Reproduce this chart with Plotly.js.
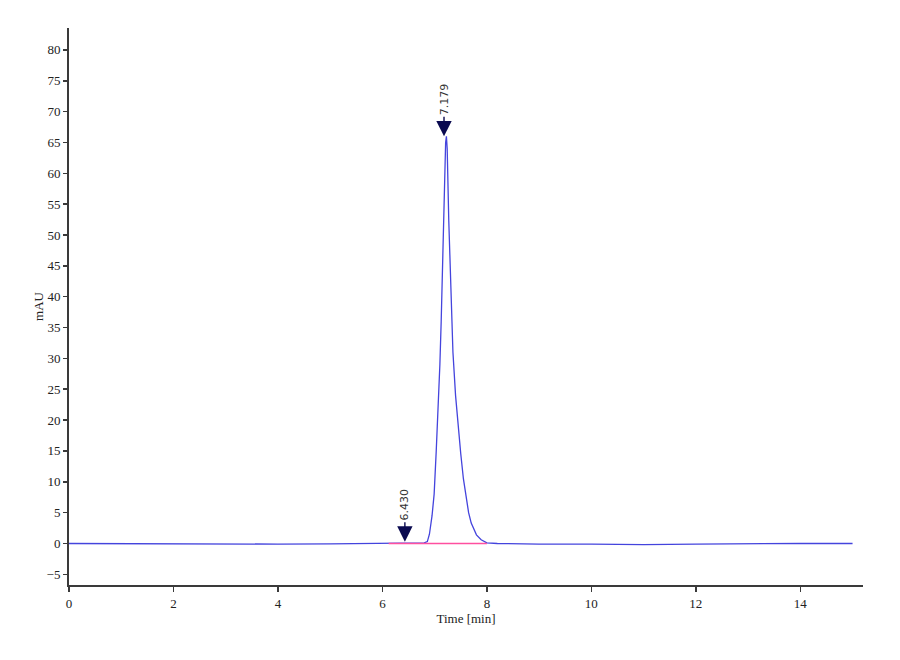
<!DOCTYPE html>
<html>
<head>
<meta charset="utf-8">
<script src="https://cdn.plot.ly/plotly-3.0.1.min.js"></script>
<style>
  body { margin: 0; background: #fff; }
  #chromGraph { width: 900px; height: 660px; }
</style>
</head>
<body>
<div id="chromGraph"></div>
<script>
// detector signal (min, mAU)
const time = [0, 1, 2, 3, 4, 5, 6, 6.4, 6.8, 6.86, 6.9, 6.95, 6.99, 7.03, 7.075, 7.1, 7.125, 7.15,
    7.17, 7.19, 7.21, 7.225, 7.24, 7.27, 7.3, 7.32, 7.35, 7.4, 7.45, 7.5, 7.55, 7.6, 7.65, 7.7,
    7.75, 7.8, 7.89, 8.0, 8.2, 9, 10, 11, 12, 13, 14, 15];
const signal = [0, -0.05, -0.05, -0.1, -0.1, -0.05, 0, 0.1, 0.1, 0.3, 1.5, 4.5, 8, 15, 23.3, 29, 36, 45,
    52.4, 60, 65, 66, 64, 52.4, 43, 37, 31, 24, 19, 14.5, 10.5, 7.3, 5, 3.3,
    2.2, 1.4, 0.6, 0.1, 0, -0.1, -0.1, -0.2, -0.1, 0, 0, 0];

// integration baseline
const baseTime = [6.12, 8.0];
const baseSignal = [0, 0];

// peak labels
const peakTimes = [6.430, 7.179];
const peakHeights = [0.3, 66];
const peakLabels = ['6.430', '7.179'];

const signalTrace = {
    x: time,
    y: signal,
    type: 'scatter',
    mode: 'lines',
    line: { color: '#4444dd', width: 1.3 },
    hoverinfo: 'skip'
};

const baselineTrace = {
    x: baseTime,
    y: baseSignal,
    type: 'scatter',
    mode: 'lines',
    line: { color: '#ff4fa0', width: 1.6 },
    hoverinfo: 'skip'
};

const annotations = peakTimes.map((t, i) => ({
    x: t,
    y: peakHeights[i],
    text: peakLabels[i],
    textangle: -90,
    showarrow: true,
    arrowhead: 2,
    arrowsize: 2.2,
    arrowwidth: 1.4,
    arrowcolor: '#0a0a50',
    ax: 0,
    ay: -37,
    font: { family: 'DejaVu Sans', size: 11, color: '#333' }
}));

const serif = 'Liberation Serif, Times New Roman, serif';

const layout = {
    width: 900,
    height: 660,
    margin: { l: 69, r: 37, t: 28, b: 75 },
    paper_bgcolor: '#fff',
    plot_bgcolor: '#fff',
    showlegend: false,
    xaxis: {
        range: [0, 15.2],
        dtick: 2,
        tick0: 0,
        showgrid: false,
        zeroline: false,
        showline: true,
        linecolor: '#3a3a3a',
        linewidth: 2,
        ticks: 'outside',
        ticklen: 5,
        tickwidth: 1.5,
        tickcolor: '#3a3a3a',
        tickfont: { family: serif, size: 13, color: '#222' },
        title: { text: 'Time [min]', font: { family: serif, size: 13, color: '#222' }, standoff: 0 }
    },
    yaxis: {
        range: [-6.73, 83.55],
        dtick: 5,
        tick0: 0,
        showgrid: false,
        zeroline: false,
        showline: true,
        linecolor: '#3a3a3a',
        linewidth: 2,
        ticks: 'outside',
        ticklen: 4,
        tickwidth: 1.5,
        tickcolor: '#3a3a3a',
        tickfont: { family: serif, size: 13, color: '#222' },
        title: { text: 'mAU', font: { family: serif, size: 13, color: '#222' }, standoff: 0 }
    },
    annotations: annotations
};

Plotly.newPlot('chromGraph', [signalTrace, baselineTrace], layout, { displayModeBar: false, staticPlot: true });
</script>
</body>
</html>
